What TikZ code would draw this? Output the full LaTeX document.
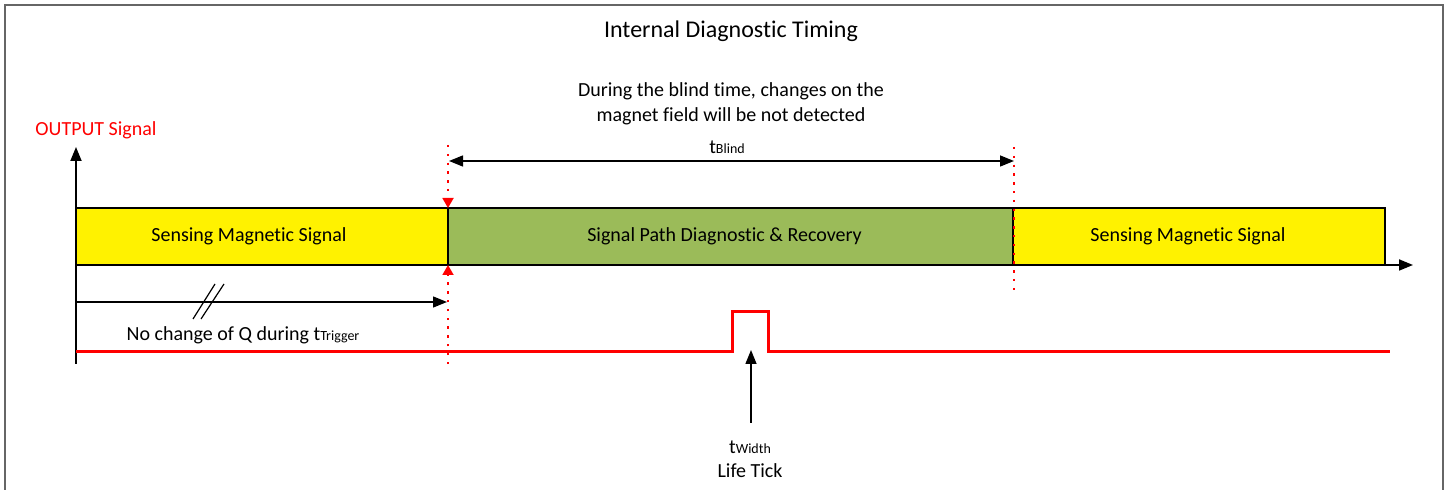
\documentclass[tikz,border=0pt]{standalone}
\usepackage{fontspec}
\setmainfont{Carlito}[Ligatures=NoCommon]
\usepackage{tikz}
\usetikzlibrary{positioning, arrows.meta}

% small index after a time symbol
\newcommand{\tidx}[1]{t{\fontsize{7}{8}\selectfont #1}}

\begin{document}
\begin{tikzpicture}[x=0.5pt, y=-0.5pt,
    txt/.style={font=\fontsize{10}{12.5}\selectfont, inner sep=0pt},
    phase/.style={draw=black, line width=0.8pt, inner sep=0pt, outer sep=0pt,
        minimum height=28.5pt, anchor=north west, txt},
    axis/.style={line width=0.9pt, -{Triangle[length=7pt, width=5.5pt]}},
    span/.style={line width=0.7pt, -{Triangle[length=7pt, width=5.5pt]}},
    marker/.style={red, line width=0.9pt, dash pattern=on 1.2pt off 3.2pt},
    redtip/.style={marker, -{Triangle[length=5pt, width=5.5pt, fill=red, sharp]}},
    sig/.style={red, line width=1.5pt}]

\useasboundingbox (0,0) rectangle (1450,490);

% --- frame ---
\draw[gray!80!black, line width=1pt] (5,490) -- (5,5) -- (1443,5) -- (1443,490);

% --- headings ---
\node[txt, font=\fontsize{12}{14}\selectfont] (title) at (731,31) {Internal Diagnostic Timing};
\node[txt, align=center] (blindnote) at (731,104)
    {During the blind time, changes on the\\magnet field will be not detected};
\node[txt, red] (outlabel) at (96,130) {OUTPUT Signal};

% --- phases ---
\node[phase, fill=yellow, minimum width=186pt] (sense1) at (76,208)
    {Sensing Magnetic Signal\hspace*{13pt}};
\node[phase, fill={rgb,255:red,155;green,187;blue,89}, minimum width=282.5pt]
    (diag) at (sense1.north east) {Signal Path Diagnostic \& Recovery\hspace*{6pt}};
\node[phase, fill=yellow, minimum width=186pt] (sense2) at (diag.north east)
    {Sensing Magnetic Signal\hspace*{11pt}};

% --- axes ---
\coordinate (origin) at (76,265);
\coordinate (ytop) at (76,147);
\coordinate (ybot) at (76,364);
\coordinate (xend) at (1413,265);
\draw[line width=0.9pt] (ybot) -- (origin);
\draw[axis] (origin) -- (ytop);
\draw[axis] (origin) -- (xend);

% --- blind time markers ---
\coordinate (m1top) at (448,145);
\coordinate (m1bot) at (448,364);
\coordinate (m2top) at (1014,147);
\coordinate (m2bot) at (1014,292);
\draw[redtip] (m1top) -- (diag.north west);
\draw[redtip] (m1bot) -- (diag.south west);
\draw[marker] (m2top) -- (m2bot);

\coordinate (b1) at (449,161);
\coordinate (b2) at (1014,161);
\draw[span, {Triangle[length=7pt, width=5.5pt]}-{Triangle[length=7pt, width=5.5pt]}] (b1) -- (b2);
\node[txt] (tblind) at (727,147) {\tidx{Blind}};

% --- trigger time ---
\coordinate (t1) at (76,302);
\coordinate (t2) at (447,302);
\draw[span] (t1) -- (t2);
\draw[line width=0.6pt] (193,319) -- (215,284);
\draw[line width=0.6pt] (201,319) -- (224,284);
\node[txt] (trigger) at (243,335) {No change of Q during \tidx{Trigger}};

% --- output signal with life tick ---
\coordinate (s0) at (76,352);
\coordinate (p1) at (732,352);
\coordinate (p2) at (732,312);
\coordinate (p3) at (768,312);
\coordinate (p4) at (768,352);
\coordinate (s1) at (1390,352);
\draw[sig] (s0) -- (p1) -- (p2) -- (p3) -- (p4) -- (s1);

\node[txt] (twidth) at (750,447) {\tidx{Width}};
\node[txt] (lifetick) at (750,471) {Life Tick};
\coordinate (tickfoot) at (751,423);
\coordinate (tickhead) at (751,350);
\draw[span] (tickfoot) -- (tickhead);

\end{tikzpicture}
\end{document}
